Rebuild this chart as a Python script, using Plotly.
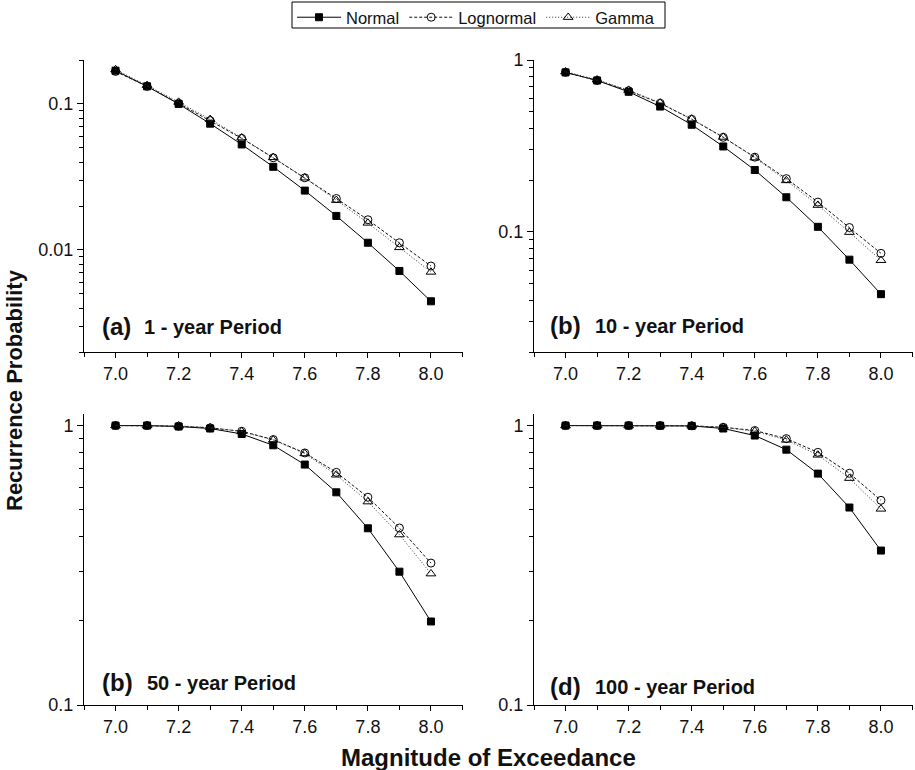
import plotly.graph_objects as go

# Magnitude thresholds (x) shared by all four panels
magnitude = [7.0, 7.1, 7.2, 7.3, 7.4, 7.5, 7.6, 7.7, 7.8, 7.9, 8.0]

# Recurrence probabilities, 1-year period
normal_1 = [0.169, 0.132, 0.100, 0.0733, 0.0528, 0.0371, 0.0255, 0.0171, 0.0112, 0.00718, 0.00445]
lognormal_1 = [0.167, 0.132, 0.101, 0.0769, 0.0581, 0.0428, 0.0312, 0.0225, 0.0161, 0.0112, 0.00776]
gamma_1 = [0.172, 0.134, 0.103, 0.0785, 0.0587, 0.0430, 0.0312, 0.0219, 0.0153, 0.0104, 0.00706]

# 10-year period
normal_10 = [0.847, 0.760, 0.653, 0.536, 0.420, 0.314, 0.229, 0.159, 0.107, 0.0689, 0.0434]
lognormal_10 = [0.847, 0.760, 0.662, 0.560, 0.452, 0.355, 0.272, 0.204, 0.149, 0.106, 0.0750]
gamma_10 = [0.855, 0.767, 0.668, 0.563, 0.454, 0.356, 0.270, 0.199, 0.143, 0.0995, 0.0683]

# 50-year period
normal_50 = [1.0, 1.0, 0.992, 0.976, 0.933, 0.850, 0.725, 0.577, 0.429, 0.300, 0.199]
lognormal_50 = [1.0, 1.0, 0.995, 0.981, 0.954, 0.891, 0.798, 0.680, 0.554, 0.430, 0.322]
gamma_50 = [1.0, 1.0, 0.997, 0.984, 0.952, 0.888, 0.794, 0.666, 0.534, 0.407, 0.295]

# 100-year period
normal_100 = [1.0, 1.0, 1.0, 0.999, 0.997, 0.976, 0.921, 0.820, 0.673, 0.509, 0.357]
lognormal_100 = [1.0, 1.0, 1.0, 1.0, 0.998, 0.986, 0.960, 0.898, 0.802, 0.675, 0.540]
gamma_100 = [1.0, 1.0, 1.0, 1.0, 0.998, 0.986, 0.954, 0.888, 0.785, 0.648, 0.503]

x_tick_vals = [7.0, 7.2, 7.4, 7.6, 7.8, 8.0]
x_tick_text = ["7.0", "7.2", "7.4", "7.6", "7.8", "8.0"]
x_minor_vals = [6.9, 7.1, 7.3, 7.5, 7.7, 7.9, 8.1]

W, H = 915, 770
FONT = "Liberation Sans, Arial, Helvetica, sans-serif"
INK = "#111111"

panels = [
    # (series, x-domain px, y-domain px, y range (log10), major ticks, labels, letter, caption, label pos)
    ((normal_1, lognormal_1, gamma_1), (84, 462.5), (60, 352), (-2.69897, -0.69897),
     [0.01, 0.1], ["0.01", "0.1"], "(a)", "1 - year Period", (100, 141.5, 326)),
    ((normal_10, lognormal_10, gamma_10), (534, 912.5), (60, 352), (-1.69897, 0.0),
     [0.1, 1], ["0.1", "1"], "(b)", "10 - year Period", (548, 593, 325)),
    ((normal_50, lognormal_50, gamma_50), (84, 462.5), (414, 705), (-1.0, 0.04139),
     [0.1, 1], ["0.1", "1"], "(b)", "50 - year Period", (100, 145, 682)),
    ((normal_100, lognormal_100, gamma_100), (534, 912.5), (414, 705), (-1.0, 0.04139),
     [0.1, 1], ["0.1", "1"], "(d)", "100 - year Period", (548, 593, 686)),
]

styles = [
    dict(name="Normal", line=dict(color="#000000", width=1, dash="solid"),
         marker=dict(symbol="square", size=7, color="#000000",
                     line=dict(color="#000000", width=1))),
    dict(name="Lognormal", line=dict(color="#111111", width=1, dash="3px,2px"),
         marker=dict(symbol="circle-open", size=8, color="#000000",
                     line=dict(color="#000000", width=1))),
    dict(name="Gamma", line=dict(color="#333333", width=1, dash="1px,2px"),
         marker=dict(symbol="triangle-up-open", size=8.5, color="#000000",
                     line=dict(color="#000000", width=1))),
]


def minor_log_vals(lo, hi):
    vals = []
    for dec in [0.001, 0.01, 0.1, 1.0]:
        for k in range(2, 10):
            v = round(k * dec, 6)
            if lo * 0.999 <= v <= hi * 1.001:
                vals.append(v)
    return vals


fig = go.Figure()
annotations = []
layout_axes = {}

for i, (series, xd, yd, yr, ymaj, ylab, letter, caption, lab) in enumerate(panels):
    n = "" if i == 0 else str(i + 1)
    for vals, st in zip(series, styles):
        fig.add_trace(go.Scatter(
            x=magnitude, y=vals, mode="lines+markers",
            name=st["name"], line=st["line"], marker=st["marker"],
            showlegend=(i == 0), legendgroup=st["name"],
            xaxis="x" + n, yaxis="y" + n,
        ))
    layout_axes["xaxis" + n] = dict(
        domain=[xd[0] / W, xd[1] / W], anchor="y" + n, range=[6.9, 8.1],
        automargin=False,
        tickmode="array", tickvals=x_tick_vals, ticktext=x_tick_text,
        ticks="outside", ticklen=5, tickwidth=1, tickcolor="#000000",
        minor=dict(tickmode="array", tickvals=x_minor_vals, ticks="outside",
                   ticklen=4, tickwidth=1, tickcolor="#000000"),
        showline=True, linecolor="#000000", linewidth=1,
        showgrid=False, zeroline=False,
        tickfont=dict(family=FONT, size=18, color=INK),
    )
    lo, hi = 10 ** yr[0], 10 ** yr[1]
    layout_axes["yaxis" + n] = dict(
        domain=[1 - yd[1] / H, 1 - yd[0] / H], anchor="x" + n, type="log",
        automargin=False,
        range=list(yr), tickmode="array", tickvals=ymaj, ticktext=ylab,
        ticks="outside", ticklen=6, tickwidth=1, tickcolor="#000000",
        minor=dict(tickmode="array", tickvals=minor_log_vals(lo, hi), ticks="outside",
                   ticklen=4, tickwidth=1, tickcolor="#000000"),
        showline=True, linecolor="#000000", linewidth=1,
        showgrid=False, zeroline=False,
        tickfont=dict(family=FONT, size=18, color=INK),
    )
    annotations.append(dict(
        x=lab[0] / W, y=1 - lab[2] / H, xref="paper", yref="paper",
        xanchor="left", yanchor="middle", showarrow=False,
        text="<b>" + letter + "</b>", font=dict(family=FONT, size=24, color=INK),
    ))
    annotations.append(dict(
        x=lab[1] / W, y=1 - (lab[2] + 1) / H, xref="paper", yref="paper",
        xanchor="left", yanchor="middle", showarrow=False,
        text="<b>" + caption + "</b>", font=dict(family=FONT, size=20, color=INK),
    ))

annotations.append(dict(
    x=15 / W, y=1 - 390 / H, xref="paper", yref="paper", textangle=-90,
    xanchor="center", yanchor="middle", showarrow=False,
    text="<b>Recurrence Probability</b>", font=dict(family=FONT, size=22, color=INK),
))
annotations.append(dict(
    x=488 / W, y=1 - 757 / H, xref="paper", yref="paper",
    xanchor="center", yanchor="middle", showarrow=False,
    text="<b>Magnitude of Exceedance</b>", font=dict(family=FONT, size=24, color=INK),
))

# Frame around the legend entries
legend_frame = dict(
    type="rect", xref="paper", yref="paper", layer="above",
    x0=292 / W, x1=665 / W, y0=1 - 28 / H, y1=1 - 2 / H,
    line=dict(color="#000000", width=1), fillcolor="rgba(0,0,0,0)",
)

fig.update_layout(
    template="none",
    width=W, height=H,
    margin=dict(l=0, r=0, t=0, b=0, pad=0),
    paper_bgcolor="#ffffff", plot_bgcolor="#ffffff",
    font=dict(family=FONT, color=INK),
    showlegend=True,
    legend=dict(
        orientation="h", x=476 / W, xanchor="center", y=1.0, yanchor="top",
        borderwidth=0, bgcolor="rgba(0,0,0,0)",
        font=dict(family=FONT, size=16.5, color=INK),
        itemwidth=44, tracegroupgap=0,
    ),
    shapes=[legend_frame],
    annotations=annotations,
    **layout_axes,
)

fig.write_html("out.html")
